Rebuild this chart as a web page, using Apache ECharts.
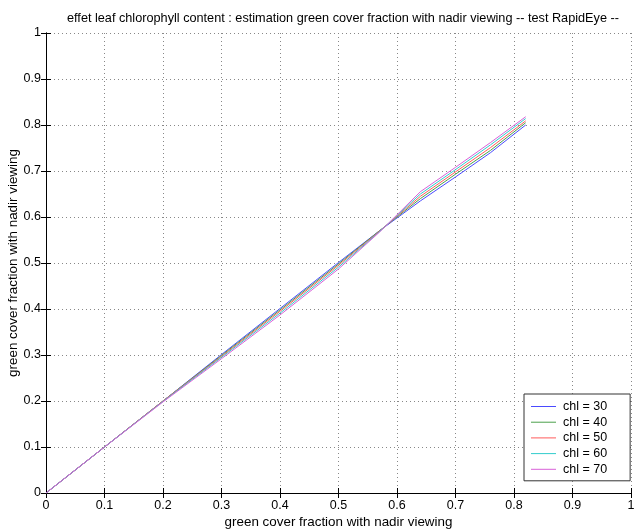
<!DOCTYPE html>
<html>
<head>
<meta charset="utf-8">
<script src="https://cdn.jsdelivr.net/npm/echarts@6/dist/echarts.min.js"></script>
<style>
html,body{margin:0;padding:0;background:#fff;}
#chart{width:634px;height:529px;}
</style>
</head>
<body>
<div id="chart"></div>
<script>
const xValues = [0, 0.1, 0.2, 0.3, 0.4, 0.5, 0.57, 0.64, 0.7, 0.76, 0.82];
const chl30 = [0, 0.1, 0.2, 0.301, 0.401, 0.501, 0.57, 0.635, 0.687, 0.740, 0.800];
const chl40 = [0, 0.1, 0.2, 0.299, 0.398, 0.498, 0.57, 0.640, 0.693, 0.745, 0.805];
const chl50 = [0, 0.1, 0.2, 0.297, 0.395, 0.495, 0.569, 0.645, 0.698, 0.751, 0.809];
const chl60 = [0, 0.1, 0.199, 0.295, 0.391, 0.491, 0.568, 0.650, 0.703, 0.757, 0.814];
const chl70 = [0, 0.1, 0.198, 0.292, 0.387, 0.487, 0.567, 0.655, 0.708, 0.762, 0.818];
const seriesNames = ['chl = 30', 'chl = 40', 'chl = 50', 'chl = 60', 'chl = 70'];
const seriesValues = [chl30, chl40, chl50, chl60, chl70];
const tickLabels = ['0', '0.1', '0.2', '0.3', '0.4', '0.5', '0.6', '0.7', '0.8', '0.9', '1'];
const colors = ['#4a4aff', '#4aa04a', '#ff5a5a', '#30cccc', '#d860d8'];

const FONT = 'Liberation Sans, Arial, Helvetica, sans-serif';
function fmt(v) {
  const i = Math.round(v * 10);
  return tickLabels[i] !== undefined ? tickLabels[i] : '';
}
const chart = echarts.init(document.getElementById('chart'), null, {renderer: 'canvas'});
const baseAxis = {
  min: 0, max: 1, interval: 0.1,
  axisLine: {show: true, lineStyle: {color: '#000', width: 1}},
  axisTick: {show: true, inside: true, length: 5, lineStyle: {color: '#000'}},
};
const option = {
  backgroundColor: '#fff',
  animation: false,
  title: {
    text: 'effet leaf chlorophyll content : estimation green cover fraction with nadir viewing -- test RapidEye --',
    left: 62, top: 7,
    textStyle: {fontSize: 12.7, fontWeight: 'normal', color: '#000', fontFamily: FONT}
  },
  grid: {left: 46, top: 33, right: 3, bottom: 36, show: false, containLabel: false, outerBoundsMode: 'none'},
  legend: {
    orient: 'vertical',
    left: 524, top: 394,
    padding: [6, 23, 5, 7],
    itemWidth: 25, itemHeight: 10, itemGap: 2.7,
    icon: 'path://M0,4.5 L25,4.5 L25,5.5 L0,5.5 Z',
    backgroundColor: '#fff',
    borderColor: '#333', borderWidth: 1, borderRadius: 0,
    textStyle: {fontSize: 12.5, color: '#000', fontFamily: FONT, padding: [0, 0, 0, 2]},
    data: seriesNames
  },
  xAxis: [
    Object.assign({}, baseAxis, {
      type: 'value', position: 'bottom',
      name: 'green cover fraction with nadir viewing',
      nameLocation: 'middle', nameGap: 23, nameMoveOverlap: false,
      nameTextStyle: {fontSize: 13.4, color: '#000', fontFamily: FONT},
      axisLabel: {margin: 6, fontSize: 12.5, color: '#000', fontFamily: FONT, formatter: fmt},
      splitLine: {show: true, lineStyle: {type: [1, 3], color: '#888', width: 1}}
    }),
    Object.assign({}, baseAxis, {
      type: 'value', position: 'top',
      axisLabel: {show: false}, splitLine: {show: false}
    })
  ],
  yAxis: [
    Object.assign({}, baseAxis, {
      type: 'value', position: 'left',
      name: 'green cover fraction with nadir viewing',
      nameLocation: 'middle', nameGap: 26, nameMoveOverlap: false,
      nameTextStyle: {fontSize: 13.4, color: '#000', fontFamily: FONT},
      axisLabel: {margin: 5, fontSize: 12.5, color: '#000', fontFamily: FONT, formatter: fmt},
      splitLine: {show: true, lineStyle: {type: [1, 3], color: '#888', width: 1}}
    }),
    Object.assign({}, baseAxis, {
      type: 'value', position: 'right',
      axisLabel: {show: false}, splitLine: {show: false}
    })
  ],
  series: seriesNames.map((n, k) => ({
    name: n,
    type: 'line',
    symbol: 'none',
    xAxisIndex: 0, yAxisIndex: 0,
    color: colors[k],
    lineStyle: {width: 1, color: colors[k]},
    data: xValues.map((x, i) => [x, seriesValues[k][i]])
  }))
};
chart.setOption(option);
</script>
</body>
</html>
